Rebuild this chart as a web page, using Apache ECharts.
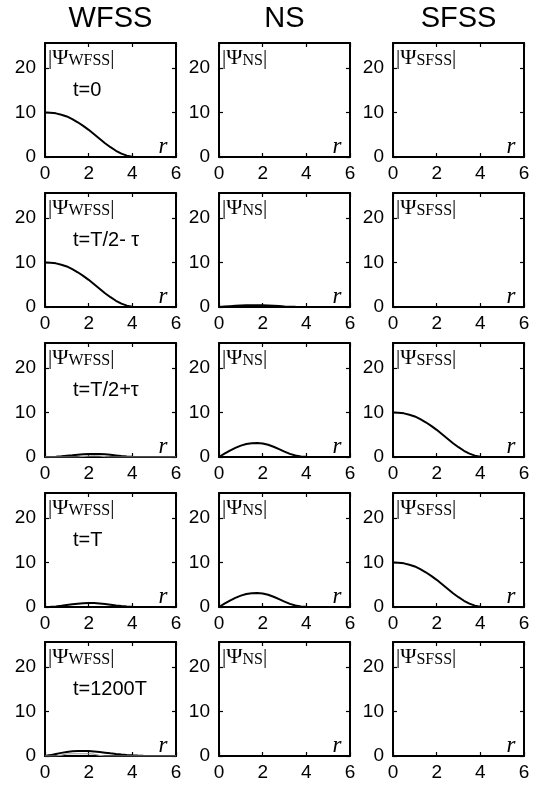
<!DOCTYPE html>
<html>
<head>
<meta charset="utf-8">
<script src="https://cdn.jsdelivr.net/npm/echarts@6/dist/echarts.min.js"></script>
<style>
  html, body { margin: 0; padding: 0; background: #fff; }
  #chart { width: 540px; height: 787px; }
</style>
</head>
<body>
<div id="chart"></div>
<script>
// radial coordinate r, step 0.25
const rValues = [0, 0.25, 0.5, 0.75, 1, 1.25, 1.5, 1.75, 2, 2.25, 2.5, 2.75, 3,
  3.25, 3.5, 3.75, 4, 4.25, 4.5, 4.75, 5, 5.25, 5.5, 5.75, 6]

// |Psi| profiles
const groundState = [10.0, 9.95, 9.8, 9.5, 9.1, 8.5, 7.8, 7.0, 6.1, 5.1, 4.1, 3.1, 2.2,
  1.4, 0.75, 0.3, 0.08, 0, 0, 0, 0, 0, 0, 0, 0]
const emptyState = [0, 0, 0, 0, 0, 0, 0, 0, 0, 0, 0, 0, 0,
  0, 0, 0, 0, 0, 0, 0, 0, 0, 0, 0, 0]
const nsBump = [0, 0.75, 1.45, 2.05, 2.55, 2.9, 3.1, 3.15, 3.05, 2.75, 2.3, 1.75, 1.2,
  0.7, 0.35, 0.13, 0.04, 0, 0, 0, 0, 0, 0, 0, 0]
const nsSmall = [0, 0.1, 0.19, 0.27, 0.33, 0.37, 0.4, 0.4, 0.38, 0.34, 0.28, 0.21, 0.14,
  0.08, 0.04, 0.02, 0, 0, 0, 0, 0, 0, 0, 0, 0]
const wfssHalfPlus = [0, 0.02, 0.08, 0.16, 0.27, 0.38, 0.5, 0.6, 0.67, 0.7, 0.68, 0.6, 0.48,
  0.34, 0.2, 0.1, 0.03, 0, 0, 0, 0, 0, 0, 0, 0]
const wfssHalfPlusInner = [0, 0, 0, 0, 0, 0, 0, 0.12, 0.22, 0.25, 0.22, 0.1, 0,
  0, 0, 0, 0, 0, 0, 0, 0, 0, 0, 0, 0]
const wfssPeriod = [0, 0.04, 0.14, 0.28, 0.44, 0.6, 0.74, 0.84, 0.9, 0.88, 0.8, 0.66, 0.5,
  0.34, 0.2, 0.09, 0.03, 0, 0, 0, 0, 0, 0, 0, 0]
const wfssLong = [0, 0.2, 0.45, 0.7, 0.9, 1.05, 1.13, 1.15, 1.1, 1.0, 0.88, 0.74, 0.6,
  0.47, 0.35, 0.25, 0.17, 0.1, 0.05, 0.02, 0, 0, 0, 0, 0]
const wfssLongInner = [0, 0, 0, 0.2, 0.45, 0.5, 0.5, 0.5, 0.5, 0.4, 0.15, 0, 0,
  0, 0, 0, 0, 0, 0, 0, 0, 0, 0, 0, 0]

const xTicks = [0, 2, 4, 6]
const yTicks = [0, 10, 20]
const columnNames = ['WFSS', 'NS', 'SFSS']
const timeLabels = ['t=0', 't=T/2- \u03c4', 't=T/2+\u03c4', 't=T', 't=1200T']

// rows x columns: list of [profile, color]
const panels = [
  [[[groundState, '#000']], [[emptyState, '#000']], [[emptyState, '#000']]],
  [[[groundState, '#000']], [[nsSmall, '#000']], [[emptyState, '#000']]],
  [[[wfssHalfPlus, '#000'], [wfssHalfPlusInner, '#999']], [[nsBump, '#000']], [[groundState, '#000']]],
  [[[wfssPeriod, '#000']], [[nsBump, '#000']], [[groundState, '#000']]],
  [[[wfssLong, '#000'], [wfssLongInner, '#999']], [[emptyState, '#000']], [[emptyState, '#000']]]
]

const colLeft = [45, 219, 393]
const rowTop = [43, 193, 343, 493, 642]
const plotW = 131
const plotH = 114

const chart = echarts.init(document.getElementById('chart'))

const grids = []
const xAxes = []
const yAxes = []
const series = []
const graphics = []

const axisLine = { show: true, onZero: false, lineStyle: { color: '#000', width: 2 } }
const tickStyle = { color: '#000', width: 1.2 }
const labelFont = { color: '#000', fontSize: 19, fontFamily: 'Liberation Sans' }

columnNames.forEach((name, c) => {
  graphics.push({
    type: 'text', x: colLeft[c] + plotW / 2, y: 19,
    style: { text: name, align: 'center', verticalAlign: 'middle', fill: '#000',
      fontSize: 29, fontFamily: 'Liberation Sans' }
  })
})

panels.forEach((row, r) => {
  row.forEach((lines, c) => {
    const g = grids.length
    grids.push({ left: colLeft[c], top: rowTop[r], width: plotW, height: plotH })
    xAxes.push({
      gridIndex: g, type: 'value', min: 0, max: 6, position: 'bottom',
      axisLine: axisLine,
      axisTick: { inside: true, length: 4, customValues: xTicks, lineStyle: tickStyle },
      axisLabel: Object.assign({ customValues: xTicks, margin: 7 }, labelFont),
      splitLine: { show: false }
    })
    xAxes.push({
      gridIndex: g, type: 'value', min: 0, max: 6, position: 'top',
      axisLine: axisLine,
      axisTick: { inside: true, length: 4, customValues: xTicks, lineStyle: tickStyle },
      axisLabel: { show: false },
      splitLine: { show: false }
    })
    yAxes.push({
      gridIndex: g, type: 'value', min: 0, max: 25.6, position: 'left',
      axisLine: axisLine,
      axisTick: { inside: true, length: 4, customValues: yTicks, lineStyle: tickStyle },
      axisLabel: Object.assign({ customValues: yTicks, margin: 9 }, labelFont),
      splitLine: { show: false }
    })
    yAxes.push({
      gridIndex: g, type: 'value', min: 0, max: 25.6, position: 'right',
      axisLine: axisLine,
      axisTick: { inside: true, length: 4, customValues: yTicks, lineStyle: tickStyle },
      axisLabel: { show: false },
      splitLine: { show: false }
    })
    lines.forEach(([profile, color]) => {
      series.push({
        type: 'line', xAxisIndex: 2 * g, yAxisIndex: 2 * g,
        showSymbol: false, silent: true, animation: false,
        lineStyle: { color: color, width: color === '#000' ? 2 : 1.2 },
        z: color === '#000' ? 4 : 5,
        data: rValues.map((x, i) => [x, profile[i]])
      })
    })

    // |Psi_name| label
    graphics.push({
      type: 'text', x: colLeft[c] + 3, y: rowTop[r] + 4,
      style: {
        text: '{b||}{p|\u03a8}{s|' + columnNames[c] + '}{b||}',
        rich: {
          b: { fontSize: 21, fontFamily: 'Liberation Serif', fill: '#000', verticalAlign: 'bottom' },
          p: { fontSize: 22, fontFamily: 'Liberation Serif', fill: '#000', verticalAlign: 'bottom' },
          s: { fontSize: 16, fontFamily: 'Liberation Serif', fill: '#000', verticalAlign: 'bottom' }
        }
      }
    })
    if (c === 0) {
      graphics.push({
        type: 'text', x: colLeft[c] + 28, y: rowTop[r] + 47,
        style: { text: timeLabels[r], verticalAlign: 'middle', fill: '#000',
          fontSize: 20, fontFamily: 'Liberation Sans' }
      })
    }
    graphics.push({
      type: 'text', x: colLeft[c] + plotW - 13, y: rowTop[r] + plotH - 10,
      style: { text: 'r', align: 'center', verticalAlign: 'middle', fill: '#000',
        fontSize: 23, fontStyle: 'italic', fontFamily: 'Liberation Serif' }
    })
  })
})

chart.setOption({
  animation: false,
  grid: grids,
  xAxis: xAxes,
  yAxis: yAxes,
  series: series,
  graphic: graphics
})
</script>
</body>
</html>
